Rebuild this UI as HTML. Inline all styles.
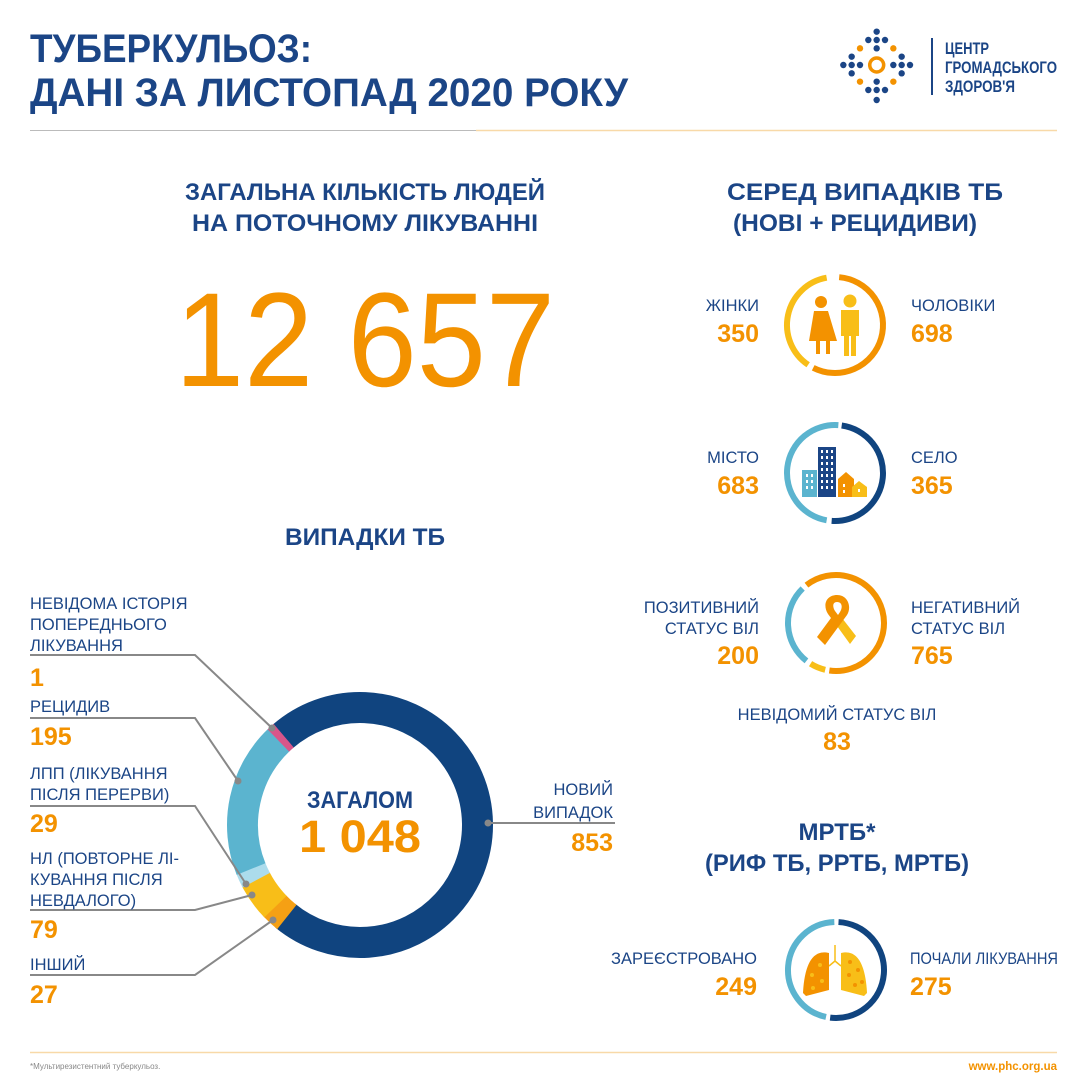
<!DOCTYPE html>
<html><head><meta charset="utf-8"><style>
html,body{margin:0;padding:0;background:#fff}
svg{display:block}
text{font-family:"Liberation Sans",sans-serif}
.b{fill:#1b4586}
.o{fill:#f39200;font-weight:bold}
.l{font-size:16.5px;fill:#1b4586}
.n{font-size:25px}
.h{font-size:24px;font-weight:bold;fill:#1b4586}
</style></head><body>
<svg id="s" width="1080" height="1081" viewBox="0 0 1080 1081" xmlns="http://www.w3.org/2000/svg">
<rect width="1080" height="1081" fill="#fff"/>
<text x="30" y="62" class="b" font-size="40" font-weight="bold" textLength="282" lengthAdjust="spacingAndGlyphs">ТУБЕРКУЛЬОЗ:</text>
<text x="30" y="106" class="b" font-size="40" font-weight="bold" textLength="598" lengthAdjust="spacingAndGlyphs">ДАНІ ЗА ЛИСТОПАД 2020 РОКУ</text>
<line x1="30" y1="130.5" x2="476" y2="130.5" stroke="#bbb" stroke-width="1"/>
<line x1="476" y1="130.5" x2="1057" y2="130.5" stroke="#f8d9a8" stroke-width="1.5"/>
<g id="logo"></g>
<line x1="932" y1="38" x2="932" y2="95" stroke="#1b4586" stroke-width="2"/>
<text x="945" y="54" class="b" font-size="17" font-weight="bold" textLength="44" lengthAdjust="spacingAndGlyphs">ЦЕНТР</text>
<text x="945" y="73" class="b" font-size="17" font-weight="bold" textLength="112" lengthAdjust="spacingAndGlyphs">ГРОМАДСЬКОГО</text>
<text x="945" y="92" class="b" font-size="17" font-weight="bold" textLength="70" lengthAdjust="spacingAndGlyphs">ЗДОРОВ'Я</text>

<text x="185" y="200" class="h" textLength="360" lengthAdjust="spacingAndGlyphs">ЗАГАЛЬНА КІЛЬКІСТЬ ЛЮДЕЙ</text>
<text x="192" y="231" class="h" textLength="346" lengthAdjust="spacingAndGlyphs">НА ПОТОЧНОМУ ЛІКУВАННІ</text>
<text x="727" y="200" class="h" textLength="276" lengthAdjust="spacingAndGlyphs">СЕРЕД ВИПАДКІВ ТБ</text>
<text x="733" y="231" class="h" textLength="244" lengthAdjust="spacingAndGlyphs">(НОВІ + РЕЦИДИВИ)</text>
<text x="175" y="386" font-size="134" fill="#f39200" textLength="380" lengthAdjust="spacingAndGlyphs">12 657</text>
<text x="285" y="545" class="h" textLength="160" lengthAdjust="spacingAndGlyphs">ВИПАДКИ ТБ</text>

<g id="donut"></g>
<g stroke="#888" stroke-width="2" fill="none">
<polyline points="30,655 195,655 272,728"/>
<polyline points="30,718 195,718 238,781"/>
<polyline points="30,806 195,806 246,884"/>
<polyline points="30,910 195,910 252,895"/>
<polyline points="30,975 195,975 273,920"/>
<polyline points="488,823 615,823"/>
</g>
<g fill="#888"><circle cx="272" cy="728" r="3.5"/><circle cx="238" cy="781" r="3.5"/><circle cx="246" cy="884" r="3.5"/><circle cx="252" cy="895" r="3.5"/><circle cx="273" cy="920" r="3.5"/><circle cx="488" cy="823" r="3.5"/></g>

<text x="30" y="609" class="l">НЕВІДОМА ІСТОРІЯ</text>
<text x="30" y="630" class="l">ПОПЕРЕДНЬОГО</text>
<text x="30" y="651" class="l">ЛІКУВАННЯ</text>
<text x="30" y="686" class="o n">1</text>
<text x="30" y="712" class="l">РЕЦИДИВ</text>
<text x="30" y="745" class="o n">195</text>
<text x="30" y="779" class="l">ЛПП (ЛІКУВАННЯ</text>
<text x="30" y="800" class="l">ПІСЛЯ ПЕРЕРВИ)</text>
<text x="30" y="832" class="o n">29</text>
<text x="30" y="864" class="l">НЛ (ПОВТОРНЕ ЛІ-</text>
<text x="30" y="885" class="l">КУВАННЯ ПІСЛЯ</text>
<text x="30" y="906" class="l">НЕВДАЛОГО)</text>
<text x="30" y="938" class="o n">79</text>
<text x="30" y="970" class="l">ІНШИЙ</text>
<text x="30" y="1003" class="o n">27</text>

<text x="360" y="808" class="h" text-anchor="middle" textLength="106" lengthAdjust="spacingAndGlyphs">ЗАГАЛОМ</text>
<text x="360" y="852" class="o" font-size="45" text-anchor="middle" textLength="122" lengthAdjust="spacingAndGlyphs">1 048</text>
<text x="613" y="795" class="l" text-anchor="end">НОВИЙ</text>
<text x="613" y="818" class="l" text-anchor="end">ВИПАДОК</text>
<text x="613" y="851" class="o n" text-anchor="end">853</text>

<g id="rings"></g>
<!-- gender icon -->
<circle cx="821" cy="302" r="6" fill="#f39200"/>
<path d="M814,311 h14 l9,30 h-7 v13 h-4 v-13 h-6 v13 h-4 v-13 h-7z" fill="#f39200"/>
<circle cx="850" cy="301" r="6.5" fill="#f8be18"/>
<path d="M841,310 h18 v26 h-3 v20 h-5 v-20 h-2 v20 h-5 v-20 h-3z" fill="#f8be18"/>
<!-- city icon -->
<rect x="802" y="470" width="15" height="27" fill="#5bb4cf"/>
<rect x="818" y="447" width="18" height="50" fill="#1b4586"/>
<path d="M838,497 v-18 l8,-7 l8,7 v18z" fill="#f39200"/>
<path d="M852,497 v-10 l7,-6 l8,6 v10z" fill="#f8be18"/>
<g fill="#fff" id="win"></g>
<!-- ribbon -->
<path d="M842,618 l14,18 l-6,8 l-13,-18z" fill="#f8be18"/>
<path d="M837,595 c-10,0 -15,9 -9,19 l3,4 l-14,19 l8,8 l22,-30 c5,-8 1,-20 -10,-20z M837,602 c5,0 6,5 3,10 l-2,3 l-3,-4 c-3,-5 -2,-9 2,-9z" fill="#f39200"/>
<!-- lungs -->
<path d="M835,945 v16 M835,961 l-6,5 M835,961 l6,5" stroke="#f8be18" stroke-width="1.5" fill="none"/>
<path d="M829,953 c-20,-5 -25,20 -26,40 l3,3 l23,-6z" fill="#f39200"/>
<path d="M841,953 c20,-5 25,20 26,40 l-3,3 l-23,-6z" fill="#f8be18"/>
<g fill="#f8be18"><circle cx="820" cy="965" r="2"/><circle cx="812" cy="975" r="2"/><circle cx="822" cy="981" r="2"/><circle cx="813" cy="988" r="2"/></g>
<g fill="#f39200"><circle cx="850" cy="962" r="2"/><circle cx="858" cy="970" r="2"/><circle cx="849" cy="975" r="2"/><circle cx="855" cy="985" r="2"/><circle cx="862" cy="982" r="2"/></g>

<text x="759" y="311" class="l" text-anchor="end">ЖІНКИ</text>
<text x="759" y="342" class="o n" text-anchor="end">350</text>
<text x="911" y="311" class="l">ЧОЛОВІКИ</text>
<text x="911" y="342" class="o n">698</text>
<text x="759" y="463" class="l" text-anchor="end">МІСТО</text>
<text x="759" y="494" class="o n" text-anchor="end">683</text>
<text x="911" y="463" class="l">СЕЛО</text>
<text x="911" y="494" class="o n">365</text>
<text x="759" y="613" class="l" text-anchor="end">ПОЗИТИВНИЙ</text>
<text x="759" y="634" class="l" text-anchor="end">СТАТУС ВІЛ</text>
<text x="759" y="664" class="o n" text-anchor="end">200</text>
<text x="911" y="613" class="l">НЕГАТИВНИЙ</text>
<text x="911" y="634" class="l">СТАТУС  ВІЛ</text>
<text x="911" y="664" class="o n">765</text>
<text x="837" y="720" class="l" text-anchor="middle">НЕВІДОМИЙ СТАТУС ВІЛ</text>
<text x="837" y="750" class="o n" text-anchor="middle">83</text>
<text x="837" y="840" class="h" text-anchor="middle">МРТБ*</text>
<text x="837" y="871" class="h" text-anchor="middle" textLength="264" lengthAdjust="spacingAndGlyphs">(РИФ ТБ, РРТБ, МРТБ)</text>
<text x="757" y="964" class="l" text-anchor="end">ЗАРЕЄСТРОВАНО</text>
<text x="757" y="995" class="o n" text-anchor="end">249</text>
<text x="910" y="964" class="l" textLength="148" lengthAdjust="spacingAndGlyphs">ПОЧАЛИ ЛІКУВАННЯ</text>
<text x="910" y="995" class="o n">275</text>

<line x1="30" y1="1052.5" x2="1057" y2="1052.5" stroke="#f8d9a8" stroke-width="1.5"/>
<text x="30" y="1069" font-size="8" fill="#888">*Мультирезистентний туберкульоз.</text>
<text x="1057" y="1070" font-size="11.5" font-weight="bold" fill="#f39200" text-anchor="end">www.phc.org.ua</text>
</svg>
<script>
var NS="http://www.w3.org/2000/svg";
function el(p,t,a){var e=document.createElementNS(NS,t);for(var k in a)e.setAttribute(k,a[k]);p.appendChild(e);return e;}
function arc(p,cx,cy,r,a0,a1,col,w){
 var r0=a0*Math.PI/180,r1=a1*Math.PI/180;
 var x0=cx+r*Math.cos(r0),y0=cy+r*Math.sin(r0),x1=cx+r*Math.cos(r1),y1=cy+r*Math.sin(r1);
 var large=(a1-a0)>180?1:0;
 el(p,"path",{d:"M"+x0+","+y0+" A"+r+","+r+" 0 "+large+" 1 "+x1+","+y1,stroke:col,"stroke-width":w,fill:"none"});
}
var d=document.getElementById("donut");
[[229,489.5,"#10447f"],[128.5,136.5,"#f5a014"],[136,152.5,"#f8be18"],[152,158.5,"#acdcec"],[158,226.5,"#5bb4cf"],[226,229.5,"#d8558a"]].forEach(function(s){arc(d,360,825,117.5,s[0],s[1],s[2],31);});
var g=document.getElementById("rings");
arc(g,835,325,48,-85,117,"#f39200",6);arc(g,835,325,48,124,260,"#f8be18",6);
arc(g,835,473,48,-82,94,"#10447f",6);arc(g,835,473,48,100,274,"#5bb4cf",6);
arc(g,836,623,48,-128,98,"#f39200",6);arc(g,836,623,48,103,122,"#f8be18",6);arc(g,836,623,48,128,226,"#5bb4cf",6);
arc(g,836,970,48,-87,97,"#10447f",6);arc(g,836,970,48,102,268,"#5bb4cf",6);
var L=document.getElementById("logo");
var blue=[[140,35],[115,60],[140,60],[165,60],[140,85],[65,110],[215,110],[40,135],[65,135],[90,135],[190,135],[215,135],[240,135],[65,160],[215,160],[140,185],[115,210],[140,210],[165,210],[140,240]];
blue.forEach(function(p){el(L,"circle",{cx:830+p[0]/3,cy:20+p[1]/3,r:3.2,fill:"#1b4586"});});
[[90,85],[190,85],[90,185],[190,185]].forEach(function(p){el(L,"circle",{cx:830+p[0]/3,cy:20+p[1]/3,r:3.2,fill:"#f39200"});});
el(L,"circle",{cx:876.7,cy:65,r:7,fill:"none",stroke:"#f39200","stroke-width":3.5});
var w=document.getElementById("win");
for(var i=0;i<7;i++)for(var j=0;j<3;j++)el(w,"rect",{x:821+j*5,y:450+i*6,width:2,height:3});
for(var i=0;i<3;i++)for(var j=0;j<2;j++)el(w,"rect",{x:806+j*5,y:474+i*6,width:2,height:3});
el(w,"rect",{x:843,y:484,width:2,height:3});el(w,"rect",{x:843,y:490,width:2,height:3});el(w,"rect",{x:858,y:489,width:2,height:3});
</script>
</body></html>
